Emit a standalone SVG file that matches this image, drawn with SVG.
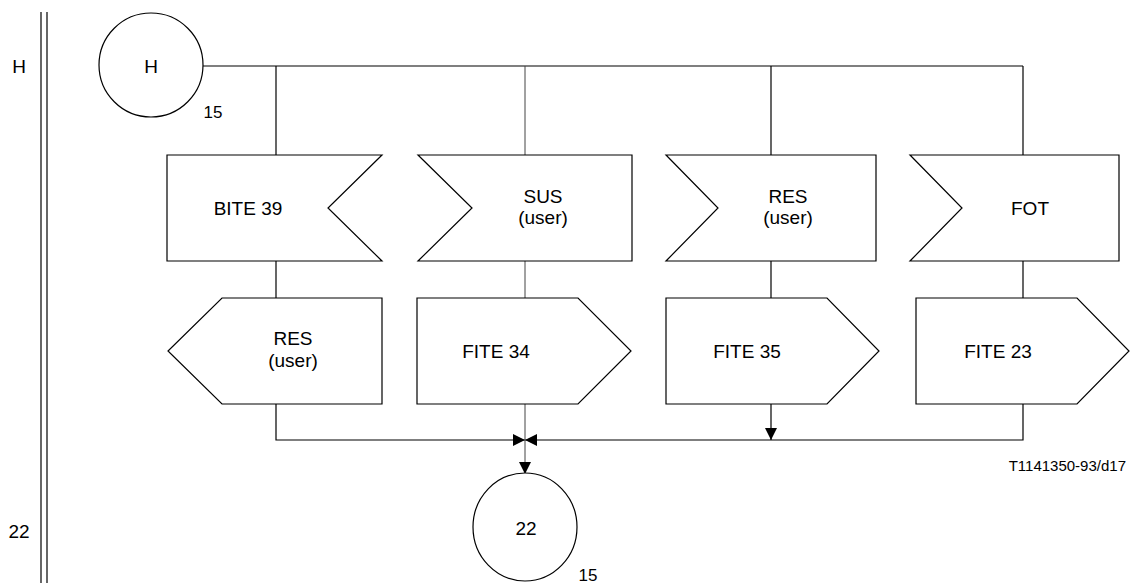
<svg xmlns="http://www.w3.org/2000/svg" width="1133" height="583" viewBox="0 0 1133 583">
<defs>
<style>
.s{fill:#fff;stroke:#000;stroke-width:1.2}
.l{fill:none;stroke:#000;stroke-width:1.2}
.t{font-family:"Liberation Sans",Arial,sans-serif;font-size:19px;fill:#000;text-anchor:middle}
.n{font-family:"Liberation Sans",Arial,sans-serif;font-size:17px;fill:#000;text-anchor:middle}
.f{font-family:"Liberation Sans",Arial,sans-serif;font-size:15px;fill:#000;text-anchor:end}
</style>
<marker id="ah" viewBox="0 0 12 12" refX="12" refY="6" markerWidth="12" markerHeight="12" markerUnits="userSpaceOnUse" orient="auto">
<path d="M0,0 L12,6 L0,12 Z" fill="#000"/>
</marker>
</defs>
<rect width="1133" height="583" fill="#fff"/>
<g id="border">
<line class="l" x1="41" y1="12" x2="41" y2="583"/>
<line class="l" x1="47" y1="12" x2="47" y2="583"/>
<text class="t" x="19" y="73">H</text>
<text class="t" x="19" y="538">22</text>
</g>
<g id="connectors">
<line class="l" x1="203" y1="66" x2="1023" y2="66"/>
<line class="l" x1="276" y1="66" x2="276" y2="155"/>
<line class="l" x1="525" y1="66" x2="525" y2="155" style="stroke:#444;stroke-width:1"/>
<line class="l" x1="771" y1="66" x2="771" y2="155"/>
<line class="l" x1="1023" y1="66" x2="1023" y2="155"/>
<line class="l" x1="276" y1="261" x2="276" y2="298"/>
<line class="l" x1="525" y1="261" x2="525" y2="298" style="stroke:#444;stroke-width:1"/>
<line class="l" x1="771" y1="261" x2="771" y2="298"/>
<line class="l" x1="1023" y1="261" x2="1023" y2="298"/>
<polyline class="l" points="276,404 276,440 525,440" marker-end="url(#ah)"/>
<polyline class="l" points="1023,404 1023,440 525,440" marker-end="url(#ah)"/>
<line class="l" x1="771" y1="404" x2="771" y2="440" marker-end="url(#ah)"/>
<line class="l" x1="525" y1="404" x2="525" y2="474" style="stroke:#444;stroke-width:1" marker-end="url(#ah)"/>
</g>
<g id="start">
<circle class="s" cx="151" cy="65" r="52"/>
<text class="t" x="151" y="73">H</text>
<text class="n" x="213" y="118">15</text>
</g>
<g id="bite39">
<polygon class="s" points="167,155 382,155 328,208 382,261 167,261"/>
<text class="t" x="248" y="215">BITE 39</text>
</g>
<g id="sus">
<polygon class="s" points="418,155 632,155 632,261 418,261 472,208"/>
<text class="t" x="543" y="203">SUS</text>
<text class="t" x="543" y="224">(user)</text>
</g>
<g id="res-in">
<polygon class="s" points="666,155 876,155 876,261 666,261 718,208"/>
<text class="t" x="788" y="203">RES</text>
<text class="t" x="788" y="224">(user)</text>
</g>
<g id="fot">
<polygon class="s" points="910,155 1119,155 1119,261 910,261 962,208"/>
<text class="t" x="1030" y="215">FOT</text>
</g>
<g id="res-out">
<polygon class="s" points="222,298 382,298 382,404 222,404 168,351"/>
<text class="t" x="293" y="345">RES</text>
<text class="t" x="293" y="367">(user)</text>
</g>
<g id="fite34">
<polygon class="s" points="417,298 578,298 631,351 578,404 417,404"/>
<text class="t" x="496" y="358">FITE 34</text>
</g>
<g id="fite35">
<polygon class="s" points="666,298 827,298 879,351 827,404 666,404"/>
<text class="t" x="747" y="358">FITE 35</text>
</g>
<g id="fite23">
<polygon class="s" points="916,298 1077,298 1129,351 1077,404 916,404"/>
<text class="t" x="998" y="358">FITE 23</text>
</g>
<g id="end">
<ellipse class="s" cx="525" cy="527" rx="52" ry="54"/>
<text class="t" x="526" y="535">22</text>
<text class="n" x="588" y="581">15</text>
</g>
<text class="f" x="1126" y="471">T1141350-93/d17</text>
</svg>
